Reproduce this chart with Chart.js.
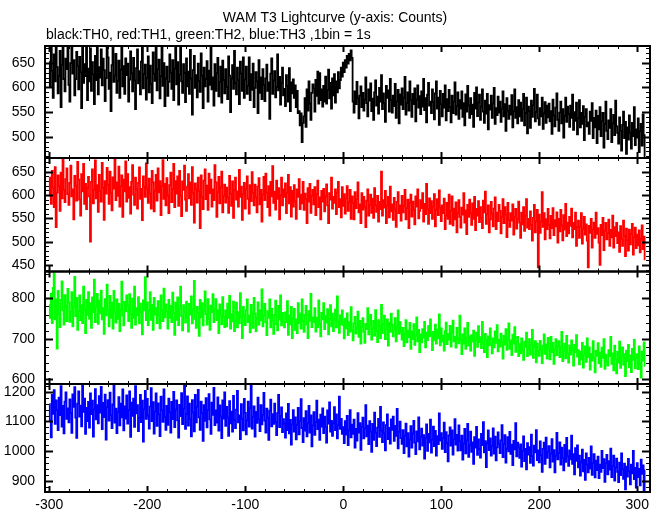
<!DOCTYPE html>
<html>
<head>
<meta charset="utf-8">
<script src="https://cdn.jsdelivr.net/npm/chart.js@4/dist/chart.umd.min.js"></script>
<style>
html,body{margin:0;padding:0;background:#fff;}
canvas{display:block;}
</style>
</head>
<body>
<canvas id="c" width="661" height="515"></canvas>
<script>
// ---- data: 1 s bins starting at t = -300 s ----
const T_START = -300;
const BIN = 1;
const TITLE = "WAM T3 Lightcurve (y-axis: Counts)";
const SUBTITLE = "black:TH0, red:TH1, green:TH2, blue:TH3 ,1bin = 1s";
const X_TICK_LABELS = [-300, -200, -100, 0, 100, 200, 300];

const TH0 = [
652,601,688,634,579,667,612,695,641,588,
623,674,560,646,703,617,592,658,637,681,
605,571,649,690,628,655,584,617,672,643,
596,662,631,558,686,609,647,623,699,574,
638,612,679,593,651,627,566,664,615,692,
586,641,620,677,604,658,635,572,619,683,
661,597,630,552,645,688,611,624,668,589,
613,654,579,636,697,602,643,587,659,625,
648,571,616,673,629,592,660,614,556,639,
677,608,633,586,652,694,598,627,646,575,
619,663,590,644,607,568,671,628,613,685,
594,637,656,578,623,690,603,649,562,618,
642,583,611,667,630,597,655,574,638,681,
606,651,565,626,684,612,589,647,629,570,
659,602,632,587,676,618,545,635,664,599,
625,580,648,613,591,669,624,558,640,602,
617,653,571,634,605,682,596,620,563,647,
593,629,660,582,611,642,569,654,615,588,
637,601,576,663,624,550,618,645,597,674,
609,586,640,615,566,652,628,593,661,579,
616,642,587,603,661,574,627,595,648,560,
599,631,612,548,655,589,620,576,637,605,
572,618,646,593,610,536,628,659,587,614,
633,580,601,667,594,621,565,609,640,584,
597,562,625,603,571,639,552,610,588,616,
579,604,560,593,548,552,523,547,489,528,
541,578,520,596,553,612,567,534,589,606,
598,551,615,583,632,567,629,574,596,561,
603,571,622,567,595,636,578,609,557,618,
584,627,569,612,590,631,598,615,640,622,
650,631,655,640,664,648,668,655,675,660,
571,549,592,566,611,578,537,583,602,560,
589,553,575,620,568,541,596,573,608,552,
577,534,590,614,563,581,547,599,571,625,
556,588,568,530,603,579,594,551,617,574,
549,583,562,607,538,571,595,527,586,565,
598,556,579,621,545,568,590,553,612,574,
540,587,566,598,531,575,604,559,582,546,
592,561,617,554,578,529,585,609,563,571,
548,596,570,535,588,612,557,579,524,593,
566,541,587,559,604,533,576,552,595,560,
529,583,548,571,610,545,562,590,536,574,
557,592,540,568,523,586,551,603,563,538,
578,546,565,520,589,557,600,542,569,585,
534,561,596,551,528,573,547,587,515,564,
555,583,538,567,599,526,558,544,581,549,
571,530,557,592,541,566,512,578,553,536,
563,545,584,519,552,596,538,560,527,574,
541,569,532,556,587,523,548,579,507,561,
552,518,573,540,564,597,531,550,585,537,
524,558,541,579,516,547,570,528,563,539,
567,531,552,506,575,543,521,559,588,534,
512,549,571,527,556,498,542,579,530,561,
546,520,563,538,585,514,550,532,569,505,
537,574,519,548,526,562,493,540,556,521,
529,506,551,532,568,497,538,519,553,487,
542,515,560,501,531,548,478,526,571,512,
495,533,518,556,489,527,544,503,573,521,
508,486,539,512,472,524,551,497,530,465,
519,494,543,508,476,528,501,560,483,515,
498,537,469,511,526,482,545,503,460
];

const TH1 = [
598,637,581,652,616,574,660,531,605,642,
619,566,648,593,677,611,585,634,657,602,
579,626,663,597,612,548,641,620,588,671,
633,590,556,645,608,667,581,624,570,615,
639,597,500,628,655,582,611,674,593,621,
564,643,609,586,669,616,547,630,603,658,
622,581,650,604,567,638,614,676,589,627,
598,661,575,619,642,553,633,608,672,586,
645,594,617,560,628,664,601,579,637,612,
571,626,659,592,613,546,640,618,596,668,
614,583,635,603,571,652,627,565,609,643,
588,657,606,630,557,619,675,592,624,578,
636,599,561,621,648,585,613,667,574,630,
603,640,577,652,598,555,629,611,663,590,
566,618,645,593,627,579,660,604,541,625,
612,584,637,609,529,642,596,570,631,655,
591,620,568,646,604,633,575,612,589,664,
627,553,606,639,582,617,650,563,598,622,
584,616,595,562,641,603,577,629,551,611,
637,590,608,575,654,596,618,547,602,626,
571,613,640,592,560,621,587,649,604,578,
622,595,563,618,636,580,611,543,601,639,
589,646,605,574,619,556,628,597,662,583,
607,569,631,592,615,548,600,637,578,612,
596,625,561,604,643,582,617,554,609,575,
621,587,549,612,596,634,570,601,582,628,
568,603,591,540,615,586,624,562,598,611,
580,617,557,602,631,574,595,548,609,586,
613,565,597,623,578,540,604,590,637,571,
596,583,612,559,605,628,574,591,552,617,
577,602,560,593,619,566,585,611,549,597,
583,548,606,572,591,627,563,580,540,604,
569,596,574,531,588,612,556,579,601,562,
592,551,615,578,564,598,543,585,570,650,
556,589,573,609,540,577,596,552,618,565,
580,547,594,569,532,585,606,561,578,545,
598,563,577,611,548,572,590,529,583,601,
554,586,568,537,597,575,612,550,566,589,
572,604,543,581,559,624,570,538,593,561,
587,549,575,602,533,568,591,557,610,573,
544,578,561,592,527,556,583,549,601,538,
566,597,535,571,548,584,520,562,589,553,
530,573,558,604,541,567,516,579,553,590,
561,536,582,549,596,525,570,556,587,542,
574,551,529,588,563,607,538,559,578,520,
548,585,560,533,571,595,527,562,544,579,
566,518,553,591,540,574,558,510,583,547,
532,561,545,580,515,553,570,528,549,586,
541,508,562,537,574,523,556,591,530,549,
527,565,536,502,551,579,520,544,568,445,
558,519,543,606,532,561,505,548,527,570,
536,507,555,529,572,514,546,533,563,498,
549,522,568,535,503,557,526,581,512,541,
518,553,534,571,509,540,527,562,491,531,
545,508,532,561,496,528,553,515,537,502,
445,534,519,549,487,526,541,508,562,517,
529,498,450,536,514,551,482,523,540,505,
518,547,491,525,509,556,487,531,512,540,
497,520,478,533,506,491,545,512,469,528,
503,481,526,494,517,538,472,509,530,486,
515,492,524,477,506,535,484,511,462
];

const TH2 = [
784,752,811,739,826,863,748,797,676,818,
761,729,796,842,770,735,808,781,744,823,
790,742,767,815,731,779,853,756,801,722,
768,807,746,783,739,829,772,714,796,759,
815,750,788,727,802,766,846,741,779,811,
737,794,763,819,748,776,712,798,758,834,
771,731,806,752,789,725,818,765,740,797,
749,786,719,772,841,758,733,791,768,807,
782,744,810,761,727,799,752,829,735,776,
758,803,738,787,766,711,795,770,852,746,
790,734,769,815,747,784,722,801,760,776,
739,793,758,726,807,771,744,824,753,785,
768,725,796,752,781,741,814,763,710,789,
747,802,734,774,829,756,721,783,765,740,
792,751,718,786,760,805,738,772,843,749,
727,779,764,707,796,753,788,733,769,817,
761,735,798,749,722,782,766,810,741,774,
798,746,771,714,785,758,736,803,755,729,
770,731,787,752,806,725,761,743,792,719,
745,789,728,766,739,813,754,702,779,758,
734,771,797,741,758,716,784,762,727,801,
763,719,752,790,735,771,746,822,731,757,
786,741,709,768,752,797,728,774,745,712,
759,794,736,721,781,748,807,733,764,742,
728,765,741,793,710,757,736,779,702,751,
774,722,748,714,788,739,763,725,797,744,
717,759,781,735,702,768,745,811,729,753,
741,776,718,752,729,795,737,706,764,748,
788,724,756,740,773,711,749,783,731,762,
719,747,772,728,805,742,715,758,736,770,
734,701,749,726,763,709,741,718,778,722,
696,738,754,713,730,767,705,744,688,729,
751,717,690,737,724,776,711,733,759,698,
727,744,708,771,719,692,746,731,702,784,
714,736,757,699,725,748,683,740,717,762,
735,706,723,751,694,730,770,712,741,719,
698,727,682,713,746,691,720,704,739,675,
718,699,736,685,708,753,694,722,667,711,
691,724,703,742,679,715,697,731,706,748,
709,672,717,696,735,688,723,701,760,684,
726,693,708,671,719,740,687,712,698,732,
681,716,745,694,705,678,727,701,689,757,
697,662,711,688,726,675,702,739,683,706,
671,709,693,720,658,697,715,680,731,692,
704,677,742,689,667,712,695,655,706,684,
726,687,664,701,679,718,690,734,669,698,
681,713,692,651,707,686,724,673,699,738,
675,696,660,710,688,729,668,693,705,657,
687,664,701,672,648,693,680,715,657,676,
699,661,684,722,653,679,694,642,688,670,
658,695,672,640,683,711,663,686,651,702,
676,649,705,667,690,638,674,699,660,681,
694,655,679,717,645,670,688,652,707,664,
641,683,661,696,673,634,685,667,709,656,
672,637,668,649,690,629,660,681,643,701,
655,679,624,663,646,694,652,617,670,658,
689,640,666,631,678,653,699,626,661,644,
634,672,657,705,638,664,622,683,650,615,
668,641,693,628,656,679,636,662,608,671,
645,685,630,659,618,675,648,697,627,653,
662,625,681,639,604,668,646,691,633
];

const TH3 = [
1158,1104,1047,1189,1126,1205,1092,1171,1138,1071,
1180,1121,1219,1083,1152,1060,1167,1198,1109,1144,
1097,1174,1128,1062,1191,1149,1215,1113,1045,1160,
1201,1116,1153,1084,1224,1132,1177,1058,1146,1101,
1166,1079,1194,1125,1170,1049,1141,1209,1107,1155,
1094,1185,1130,1216,1074,1162,1115,1190,1039,1148,
1172,1103,1197,1121,1078,1157,1225,1096,1143,1061,
1131,1182,1087,1160,1114,1208,1070,1151,1110,1188,
1093,1139,1201,1048,1163,1119,1177,1082,1219,1127,
1155,1068,1112,1189,1098,1170,1032,1141,1203,1109,
1176,1120,1076,1150,1212,1101,1165,1059,1133,1194,
1085,1161,1124,1051,1183,1137,1099,1208,1116,1072,
1152,1089,1177,1131,1063,1166,1108,1199,1081,1140,
1171,1104,1046,1156,1118,1195,1091,1143,1221,1075,
1125,1184,1086,1160,1109,1050,1172,1130,1067,1189,
1097,1150,1206,1114,1072,1167,1128,1035,1155,1102,
1178,1080,1139,1192,1107,1058,1163,1122,1213,1088,
1137,1096,1181,1069,1154,1117,1044,1171,1110,1198,
1085,1149,1113,1052,1168,1094,1133,1066,1186,1105,
1078,1140,1203,1097,1120,1041,1158,1109,1070,1176,
1129,1057,1104,1167,1083,1145,1222,1076,1116,1151,
1049,1132,1095,1180,1107,1068,1155,1090,1122,1196,
1103,1063,1143,1112,1038,1136,1173,1084,1125,1092,
1160,1098,1054,1128,1189,1081,1119,1147,1064,1108,
1093,1046,1127,1071,1159,1060,1105,1022,1090,1138,
1066,1114,1040,1089,1146,1057,1102,1175,1078,1031,
1111,1069,1135,1050,1094,1152,1063,1120,1016,1087,
1131,1055,1098,1170,1074,1106,1038,1123,1083,1144,
1061,1116,1081,1029,1137,1093,1164,1066,1102,1052,
1095,1148,1071,1124,1043,1088,1183,1075,1109,1058,
1081,1027,1101,1056,1119,1021,1070,1138,1047,1089,
1058,1106,1012,1075,1036,1128,1063,1094,1005,1082,
1113,1043,1077,1155,1050,1086,1024,1101,1066,998,
1092,1038,1130,1062,1017,1079,1109,1048,1149,1069,
1031,1097,1060,1003,1088,1124,1041,1078,1026,1107,
1072,1116,1035,1085,1052,1142,1010,1065,1099,1044,
1025,1071,994,1052,1093,1016,1061,982,1040,1084,
1012,1060,1102,1029,990,1067,1033,1114,1006,1049,
1076,1019,1054,975,1044,1090,1001,1058,1030,1106,
995,1039,1083,1017,1068,985,1051,1024,1127,1036,
1061,1008,1045,1096,997,1064,1028,966,1053,1080,
1019,1070,989,1041,1108,1022,1055,1002,1087,1034,
1003,1052,972,1026,1075,993,1037,1092,981,1020,
1066,998,1030,958,1047,1012,1082,988,1040,1007,
979,1058,1021,1098,996,1034,947,1026,1070,1004,
1043,985,1018,1077,992,1049,969,1013,1063,1025,
994,1036,1088,980,1024,1054,962,1009,1047,1000,
1065,991,1022,953,1035,1006,1094,983,1029,1013,
978,1023,948,1001,1050,967,1008,939,1027,989,
1014,961,1056,984,952,1019,996,1071,970,1003,
963,1033,987,931,1008,1029,958,1046,978,999,
1017,946,992,1041,965,1004,929,985,1062,973,
994,1030,955,1012,977,936,1021,964,1045,983,
951,1003,973,1052,958,990,922,1010,968,1020,
946,985,918,963,1005,932,971,904,993,955,
929,978,942,1016,921,961,990,912,968,937,
982,910,955,931,1001,943,973,897,960,988,
922,967,938,1009,913,951,985,901,946,975,
931,896,962,920,993,940,907,958,872,948,
915,974,933,889,955,926,1001,906,944,878,
960,913,941,885,972,924,952,868,936
];

const SERIES = [TH0, TH1, TH2, TH3];
const SERIES_NAMES = ["TH0", "TH1", "TH2", "TH3"];
const COLORS = ["#000000", "#ff0000", "#00ff00", "#0000ff"];
const Y_IDS = ["y0", "y1", "y2", "y3"];
const Y_MIN = [456.8, 436, 588.4, 863];
const Y_MAX = [683.9, 679.4, 866.2, 1225.9];
const Y_MAJOR = [50, 50, 100, 100];
const Y_MINOR = [10, 10, 20, 20];
const PANEL_WEIGHT = [112, 113.5, 112.5, 108];

const FONT_FAMILY = '"Liberation Sans", Arial, Helvetica, sans-serif';
const FONT_SIZE = 14;

const times = TH0.map((_, i) => T_START + i * BIN);

const datasets = SERIES.map((vals, k) => ({
  label: SERIES_NAMES[k],
  data: vals.map((v, i) => ({ x: times[i], y: v })),
  yAxisID: Y_IDS[k],
  borderColor: COLORS[k],
  backgroundColor: COLORS[k],
  borderWidth: 1.8,
  pointRadius: 0,
  pointHoverRadius: 0,
  tension: 0,
  stepped: 'middle',
  fill: false
}));

const scales = {
  x: {
    type: 'linear',
    position: 'bottom',
    min: -304.4,
    max: 313,
    grid: { display: false, drawTicks: false },
    border: { display: false },
    ticks: {
      stepSize: 100,
      includeBounds: false,
      autoSkip: false,
      maxRotation: 0,
      padding: 5,
      color: '#000',
      font: { family: FONT_FAMILY, size: FONT_SIZE },
      callback: (v) => (X_TICK_LABELS.includes(v) ? String(v) : '')
    },
    afterFit(s) { s.height = 23; }
  }
};
Y_IDS.forEach((id, k) => {
  scales[id] = {
    type: 'linear',
    position: 'left',
    stack: 'panels',
    stackWeight: PANEL_WEIGHT[k],
    weight: 4 - k,
    min: Y_MIN[k],
    max: Y_MAX[k],
    grid: { display: false, drawTicks: false },
    border: { display: false },
    ticks: {
      stepSize: Y_MAJOR[k],
      includeBounds: false,
      autoSkip: false,
      padding: 10,
      color: '#000',
      font: { family: FONT_FAMILY, size: FONT_SIZE },
      callback: (v) => String(v)
    },
    afterFit(s) { s.width = 45; }
  };
});

function seg(ctx, x1, y1, x2, y2) {
  ctx.beginPath();
  ctx.moveTo(x1, y1);
  ctx.lineTo(x2, y2);
  ctx.stroke();
}

const panelPlugin = {
  id: 'panels',
  beforeDatasetDraw(chart, args) {
    const ds = chart.data.datasets[args.index];
    const ys = chart.scales[ds.yAxisID];
    const a = chart.chartArea;
    const ctx = chart.ctx;
    ctx.save();
    ctx.beginPath();
    ctx.rect(a.left, ys.top, a.right - a.left, ys.bottom - ys.top);
    ctx.clip();
  },
  afterDatasetDraw(chart) {
    chart.ctx.restore();
  },
  afterDraw(chart) {
    const ctx = chart.ctx;
    const a = chart.chartArea;
    const xs = chart.scales.x;
    ctx.save();
    ctx.strokeStyle = '#000';
    ctx.lineCap = 'butt';
    Y_IDS.forEach((id, k) => {
      const ys = chart.scales[id];
      const top = ys.top, bot = ys.bottom;
      const mn = Y_MINOR[k], mj = Y_MAJOR[k];
      for (let v = Math.ceil(ys.min / mn) * mn; v <= ys.max; v += mn) {
        const isMaj = Math.abs(v / mj - Math.round(v / mj)) < 1e-6;
        const len = isMaj ? 8 : 4;
        const y = Math.round(ys.getPixelForValue(v)) + 0.5;
        ctx.lineWidth = isMaj ? 2 : 1;
        seg(ctx, a.left, y, a.left + len, y);
        seg(ctx, a.right, y, a.right - len, y);
      }
      for (let v = Math.ceil(xs.min / 20) * 20; v <= xs.max; v += 20) {
        const isMaj = Math.abs(v / 100 - Math.round(v / 100)) < 1e-6;
        const len = isMaj ? 6 : 3;
        const x = Math.round(xs.getPixelForValue(v)) + 0.5;
        ctx.lineWidth = isMaj ? 2 : 1;
        seg(ctx, x, top, x, top + len);
        seg(ctx, x, bot, x, bot - len);
      }
      ctx.lineWidth = 2;
      ctx.strokeRect(a.left, top, a.right - a.left, bot - top);
    });
    ctx.fillStyle = '#000';
    ctx.font = FONT_SIZE + 'px ' + FONT_FAMILY;
    ctx.textBaseline = 'middle';
    ctx.textAlign = 'center';
    ctx.fillText(TITLE, 335, 18);
    ctx.textAlign = 'left';
    ctx.fillText(SUBTITLE, 46, 35);
    ctx.restore();
  }
};

new Chart(document.getElementById('c'), {
  type: 'line',
  data: { datasets },
  options: {
    responsive: false,
    animation: false,
    devicePixelRatio: 1,
    events: [],
    layout: { padding: { top: 46, right: 11, bottom: 0, left: 0 } },
    plugins: {
      legend: { display: false },
      title: { display: false },
      tooltip: { enabled: false }
    },
    scales
  },
  plugins: [panelPlugin]
});
</script>
</body>
</html>
